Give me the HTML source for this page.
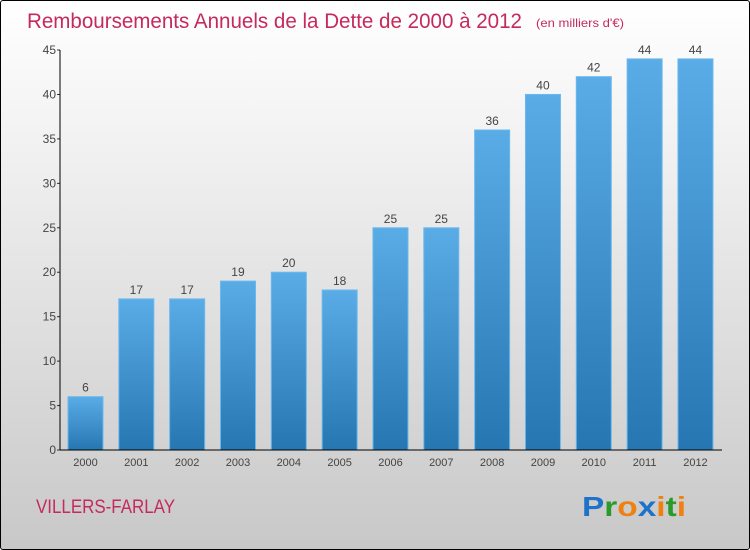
<!DOCTYPE html>
<html><head><meta charset="utf-8"><style>
body{margin:0}
#c{width:750px;height:550px;position:relative;box-sizing:border-box;border:1px solid #000;border-radius:3px;background:linear-gradient(#fff,#f2f2f2 25%,#c8c8c8);font-family:"Liberation Sans",sans-serif;overflow:hidden}
</style></head><body>
<div id="c">
<svg width="750" height="550" style="position:absolute;left:-1px;top:-1px">
<defs><linearGradient id="g" x1="0" y1="0" x2="0" y2="1"><stop offset="0" stop-color="#5aace6"/><stop offset="1" stop-color="#2676b2"/></linearGradient></defs>
<text x="27" y="28" font-size="21" fill="#c52a5c" textLength="495" lengthAdjust="spacingAndGlyphs">Remboursements Annuels de la Dette de 2000 à 2012</text>
<text x="536" y="27" font-size="12" fill="#c52a5c" textLength="88" lengthAdjust="spacingAndGlyphs">(en milliers d'€)</text>
<g id="plot"></g>
<text x="36" y="513" font-size="19" fill="#c52a5c" textLength="139" lengthAdjust="spacingAndGlyphs">VILLERS-FARLAY</text>
<text x="582" y="516" font-size="28" font-weight="bold" textLength="104" lengthAdjust="spacingAndGlyphs"><tspan fill="#1e73c8">P</tspan><tspan fill="#2a9a2a">r</tspan><tspan fill="#f08010">o</tspan><tspan fill="#1e73c8">x</tspan><tspan fill="#f08010">i</tspan><tspan fill="#2a9a2a">t</tspan><tspan fill="#f08010">i</tspan></text>
</svg>
</div>
<script>
const categories=["2000","2001","2002","2003","2004","2005","2006","2007","2008","2009","2010","2011","2012"];
const values=[6,17,17,19,20,18,25,25,36,40,42,44,44];
const yTicks=[0,5,10,15,20,25,30,35,40,45];
const ns="http://www.w3.org/2000/svg";
const g=document.getElementById('plot');
const x0=60,x1=722,y0=450,yTop=50,yMax=45;
const step=50.83,bw=35,first=68;
const y=v=>y0-(v/yMax)*(y0-yTop);
const xb=i=>first+i*step;
function mk(t,a,txt){const e=document.createElementNS(ns,t);for(const k in a)e.setAttribute(k,a[k]);if(txt!==undefined)e.textContent=txt;g.appendChild(e);return e;}
values.forEach((v,i)=>{
 const r=mk('rect',{x:xb(i),y:y(v),width:bw,height:y0-y(v),fill:'url(#g)',stroke:'#6bb8ee','stroke-width':1});
 
 
 const t=mk('text',{x:xb(i)+bw/2,y:y(v)-5,'text-anchor':'middle','font-size':12,fill:'#444'},v);
 
 
 const c=mk('text',{x:xb(i)+bw/2,y:y0+16,'text-anchor':'middle','font-size':11,fill:'#444'},categories[i]);
 
 
});
yTicks.forEach(v=>{
 const l=mk('line',{x1:x0-3,x2:x0,y1:y(v),y2:y(v),stroke:'#333'});
 
 
 const t=mk('text',{x:x0-4,y:y(v)+4,'text-anchor':'end','font-size':12,fill:'#444'},v);
 
 
});
const ya=mk('line',{x1:x0,x2:x0,y1:yTop,y2:y0,stroke:'#000'});


const xa=mk('line',{x1:x0,x2:x1,y1:y0,y2:y0,stroke:'#000'});


</script>
</body></html>
